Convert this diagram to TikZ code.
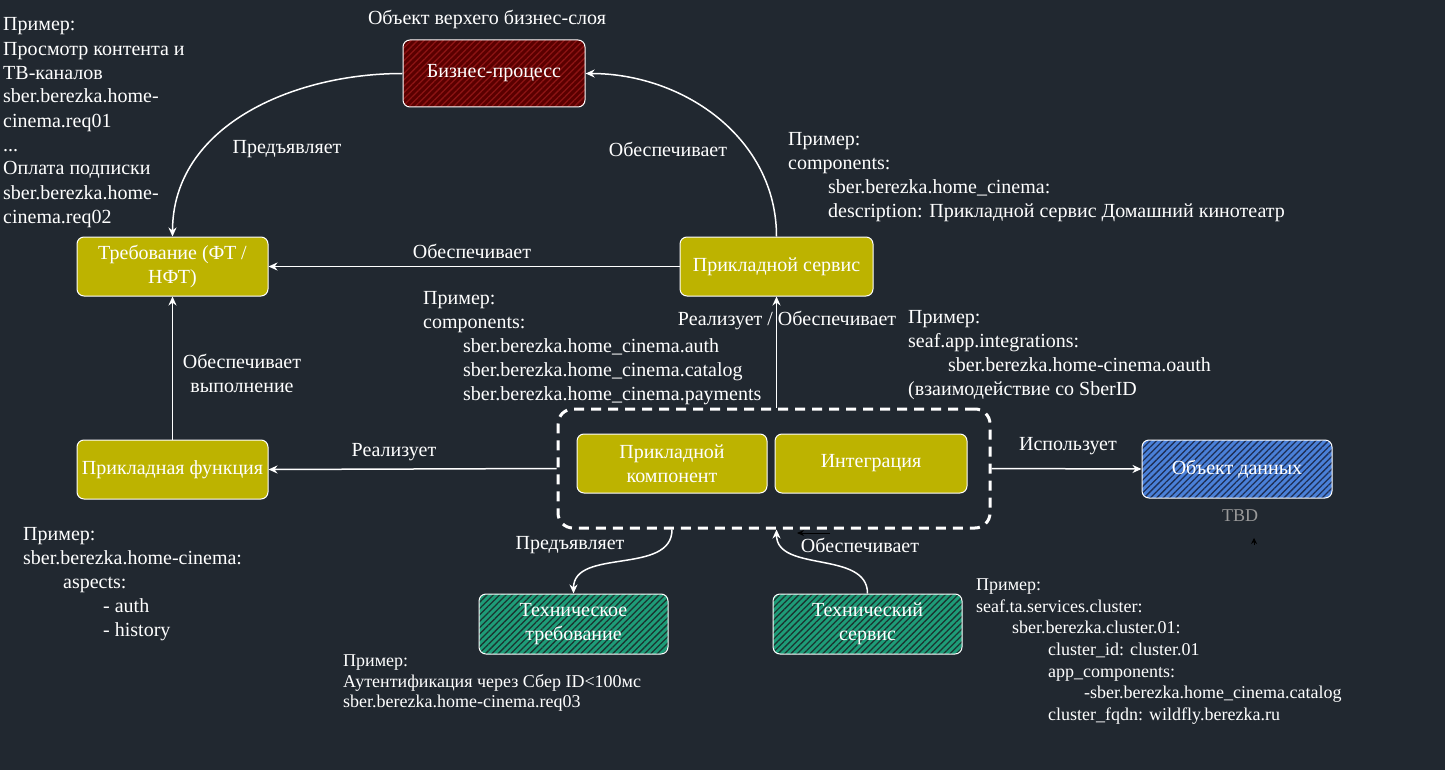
\documentclass[tikz,border=0pt]{standalone}
\usepackage{fontspec}
\setmainfont{Liberation Serif}
\usetikzlibrary{arrows.meta,patterns.meta,calc}
\definecolor{bg}{HTML}{212830}
\definecolor{olive}{HTML}{BDB300}
\definecolor{redfill}{HTML}{5A0000}
\definecolor{redhatch}{HTML}{8C1414}
\definecolor{bluefill}{HTML}{4A80D8}
\definecolor{bluehatch}{HTML}{1E2F55}
\definecolor{greenfill}{HTML}{1E9C78}
\definecolor{greenhatch}{HTML}{1A3530}
\definecolor{tbdgray}{HTML}{9A9A9A}
\tikzset{
  box/.style={draw=white, line width=1pt, rounded corners=7pt, text=white, align=center,
    font=\fontsize{20}{24}\selectfont, inner sep=2pt},
  solidbox/.style={box, fill=olive},
  hatchbox/.style 2 args={box, preaction={fill=#1},
    pattern={Lines[angle=45,distance=4.5pt,line width=1.3pt]}, pattern color=#2},
  conn/.style={draw=white, line width=1.5pt, -{Stealth[open, length=9pt, width=8pt]}},
  lbl/.style={text=white, font=\fontsize{20}{24}\selectfont, inner sep=0pt, align=center},
  note/.style={anchor=north west, inner sep=0pt, align=left, text=white,
    font=\fontsize{20}{24}\selectfont},
  smallnote/.style={note, font=\fontsize{18}{20.5}\selectfont},
  clusternote/.style={note, font=\fontsize{18}{21.7}\selectfont},
  groupbox/.style={draw=white, line width=3pt, dash pattern=on 10pt off 7pt, rounded corners=15pt}
}
\begin{document}
\begin{tikzpicture}[x=1pt,y=-1pt]
\fill[bg] (0,0) rectangle (1445,770);
\useasboundingbox (0,0) rectangle (1445,770);

% group container
\node[groupbox, minimum width=432pt, minimum height=119pt] (cont) at (774,468.5) {};

% nodes
\node[hatchbox={redfill}{redhatch}, minimum width=182pt, minimum height=67pt] (bp) at (494,73.5) {Бизнес-процесс};
\node[lbl] (title) at (487,19) {Объект верхего бизнес-слоя};
\node[solidbox, minimum width=191pt, minimum height=59pt] (req) at (172.5,266.5) {Требование (ФТ /\\НФТ)};
\node[solidbox, minimum width=193pt, minimum height=59pt] (svc) at (776.5,266.5) {Прикладной сервис};
\node[solidbox, minimum width=191pt, minimum height=59pt, inner sep=0pt] (fn) at (172.5,469.5) {Прикладная функция};
\node[solidbox, minimum width=190pt, minimum height=59pt] (comp) at (672,463.5) {Прикладной\\компонент};
\node[solidbox, minimum width=192pt, minimum height=59pt] (integ) at (871,463.5) {Интеграция};
\node[hatchbox={bluefill}{bluehatch}, minimum width=190pt, minimum height=58pt] (data) at (1237,469) {Объект данных};
\node[lbl, text=tbdgray, font=\fontsize{18}{21}\selectfont] (tbd) at (1240,516) {TBD};
\node[hatchbox={greenfill}{greenhatch}, minimum width=189pt, minimum height=60pt] (treq) at (573.5,624) {Техническое\\требование};
\node[hatchbox={greenfill}{greenhatch}, minimum width=189pt, minimum height=60pt] (tsvc) at (867.5,624) {Технический\\сервис};

% connectors
\draw[conn] (bp.west) to[out=180,in=90] (req.north);
\draw[conn] (svc.north) to[out=90,in=0] (bp.east);
\draw[conn] (svc.west) -- (req.east);
\draw[conn] (fn.north) -- (req.south);
\draw[conn] (svc.south |- cont.north) -- (svc.south);
\draw[conn] (cont.west) -- (fn.east);
\draw[conn] (cont.east) -- (data.west);
\draw[conn] (comp.south |- cont.south) to[out=-90,in=90] (treq.north);
\draw[conn] (tsvc.north) to[out=90,in=-90] (svc.south |- cont.south);

% tiny dark marks
\coordinate (k1) at (830,533);
\coordinate (k2) at (797,533);
\draw[black, line width=0.8pt, -{Stealth[length=7pt,width=6pt]}] (k1) -- (k2);
\coordinate (k3) at (1254,545);
\coordinate (k4) at (1254,538);
\draw[black, line width=0.8pt, -{Stealth[length=6pt,width=6pt]}] (k3) -- (k4);

% edge labels
\node[lbl] (l1) at (287,149) {Предъявляет};
\node[lbl] (l2) at (668,149) {Обеспечивает};
\node[lbl] (l3) at (472,251) {Обеспечивает};
\node[lbl] (l4) at (242,373.5) {Обеспечивает\\выполнение};
\node[lbl] (l5) at (787,320) {Реализует / Обеспечивает};
\node[lbl] (l6) at (394,452) {Реализует};
\node[lbl] (l7) at (1068,446) {Использует};
\node[lbl] (l8) at (570,545) {Предъявляет};
\node[lbl] (l9) at (860,545) {Обеспечивает};

% notes
\node[note] (n1) at (3,14) {\strut Пример:\\Просмотр контента и\\ТВ-каналов\\sber.berezka.home-\\cinema.req01\\...\\Оплата подписки\\sber.berezka.home-\\cinema.req02};
\node[note] (n2) at (788,129) {\strut Пример:\\components:\\\hspace*{40pt}sber.berezka.home\_cinema:\\\hspace*{40pt}description: Прикладной сервис Домашний кинотеатр};
\node[note] (n3) at (423,287) {\strut Пример:\\components:\\\hspace*{40pt}sber.berezka.home\_cinema.auth\\\hspace*{40pt}sber.berezka.home\_cinema.catalog\\\hspace*{40pt}sber.berezka.home\_cinema.payments};
\node[note] (n4) at (908,306) {\strut Пример:\\seaf.app.integrations:\\\hspace*{40pt}sber.berezka.home-cinema.oauth\\(взаимодействие со SberID};
\node[note] (n5) at (23,523) {\strut Пример:\\sber.berezka.home-cinema:\\\hspace*{40pt}aspects:\\\hspace*{80pt}- auth\\\hspace*{80pt}- history};
\node[smallnote] (n6) at (343,652) {\strut Пример:\\Аутентификация через Сбер ID<100мс\\sber.berezka.home-cinema.req03};
\node[clusternote] (n7) at (976,575) {\strut Пример:\\seaf.ta.services.cluster:\\\hspace*{36pt}sber.berezka.cluster.01:\\\hspace*{72pt}cluster\_id: cluster.01\\\hspace*{72pt}app\_components:\\\hspace*{108pt}-sber.berezka.home\_cinema.catalog\\\hspace*{72pt}cluster\_fqdn: wildfly.berezka.ru};
\end{tikzpicture}
\end{document}
